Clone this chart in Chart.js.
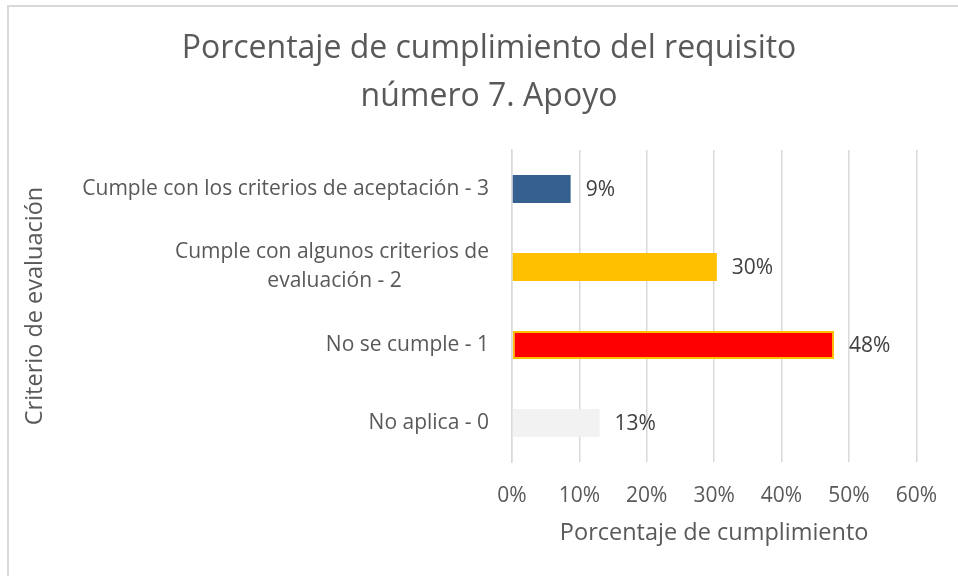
<!DOCTYPE html>
<html>
<head>
<meta charset="utf-8">
<script src="https://cdn.jsdelivr.net/npm/chart.js@4.4.1/dist/chart.umd.min.js"></script>
<style>
    html, body { margin: 0; padding: 0; background: #fff; }
    #wrap { position: relative; width: 958px; height: 576px; overflow: hidden; }
    #frame { position: absolute; left: 7px; top: 5px; width: 980px; height: 600px;
             border-left: 2px solid #d9d9d9; border-top: 2px solid #d9d9d9; }
    canvas { position: absolute; left: 0; top: 0; }
</style>
</head>
<body>
<div id="wrap">
    <div id="frame"></div>
    <canvas id="chart" width="958" height="576"></canvas>
</div>
<script>
const TITLE = ['Porcentaje de cumplimiento del requisito', 'número 7. Apoyo'];
const CATEGORIES = [
    ['Cumple con los criterios de aceptación - 3'],
    ['Cumple con algunos criterios de', 'evaluación - 2'],
    ['No se cumple - 1'],
    ['No aplica - 0']
];
const VALUES = [8.7, 30.4, 47.8, 13.0];   // porcentaje
const X_MAX = 60;
const X_STEP = 10;

const FONT = "'Open Sans', sans-serif";
const TEXT = '#595959';

Chart.defaults.font.family = FONT;
Chart.defaults.color = TEXT;

// centra las líneas de una etiqueta de varias líneas (como Excel)
const measureCtx = document.createElement('canvas').getContext('2d');
function centerLines(lines, size) {
    if (lines.length < 2) return lines;
    measureCtx.font = size + 'px ' + FONT;
    const widths = lines.map(l => measureCtx.measureText(l).width);
    const max = Math.max(...widths);
    const sp = measureCtx.measureText('\u00a0').width;
    return lines.map((l, i) => l + '\u00a0'.repeat(Math.round((max - widths[i]) / 2 / sp)));
}

// etiquetas de datos al final de cada barra
const valueLabels = {
    id: 'valueLabels',
    afterDatasetsDraw(chart) {
        const ctx = chart.ctx;
        const meta = chart.getDatasetMeta(0);
        ctx.save();
        ctx.font = '21px ' + FONT;
        ctx.fillStyle = '#404040';
        ctx.textAlign = 'left';
        ctx.textBaseline = 'middle';
        meta.data.forEach((bar, i) => {
            ctx.fillText(Math.round(VALUES[i]) + '%', bar.x + 15, bar.y + 1);
        });
        ctx.restore();
    }
};

new Chart(document.getElementById('chart'), {
    type: 'bar',
    data: {
        labels: CATEGORIES,
        datasets: [{
            data: VALUES,
            backgroundColor: ['#36608f', '#ffc000', '#ff0000', '#f2f2f2'],
            borderColor: ['#36608f', '#ffc000', '#ffc000', '#f2f2f2'],
            borderWidth: [0, 0, 2, 0],
            borderSkipped: false,
            categoryPercentage: 1,
            barPercentage: 0.36
        }]
    },
    plugins: [valueLabels],
    options: {
        indexAxis: 'y',
        responsive: false,
        animation: false,
        devicePixelRatio: 1,
        // padding izquierdo mayor para centrar el título en x≈489
        layout: { padding: { left: 59, top: 8, right: 39, bottom: 0 } },
        plugins: {
            legend: { display: false },
            tooltip: { enabled: false },
            title: {
                display: true,
                text: TITLE,
                color: TEXT,
                font: { size: 32, weight: 'normal', lineHeight: 48 / 32 },
                padding: { top: 17, bottom: 29 }
            }
        },
        scales: {
            x: {
                min: 0,
                max: X_MAX,
                ticks: {
                    stepSize: X_STEP,
                    callback: v => v + '%',
                    font: { size: 21 },
                    color: TEXT,
                    padding: 21
                },
                grid: { color: '#d9d9d9', lineWidth: 1.5, drawTicks: false },
                border: { display: false },
                title: {
                    display: true,
                    text: 'Porcentaje de cumplimiento',
                    font: { size: 23.5 },
                    color: TEXT,
                    padding: { top: 0, bottom: 29 }
                },
                afterFit: s => { s.height = 114; }
            },
            y: {
                ticks: {
                    font: { size: 21, lineHeight: 1.38 },
                    color: TEXT,
                    padding: 23,
                    callback: function (v, i) { return centerLines(CATEGORIES[i], 21); }
                },
                grid: { display: false, drawTicks: false },
                border: { display: true, color: '#d9d9d9', width: 1.5 },
                title: {
                    display: true,
                    text: 'Criterio de evaluación',
                    font: { size: 23.5 },
                    color: TEXT,
                    padding: { top: -38, bottom: 0 }
                },
                afterFit: s => { s.width = 453; }
            }
        }
    }
});
</script>
</body>
</html>
